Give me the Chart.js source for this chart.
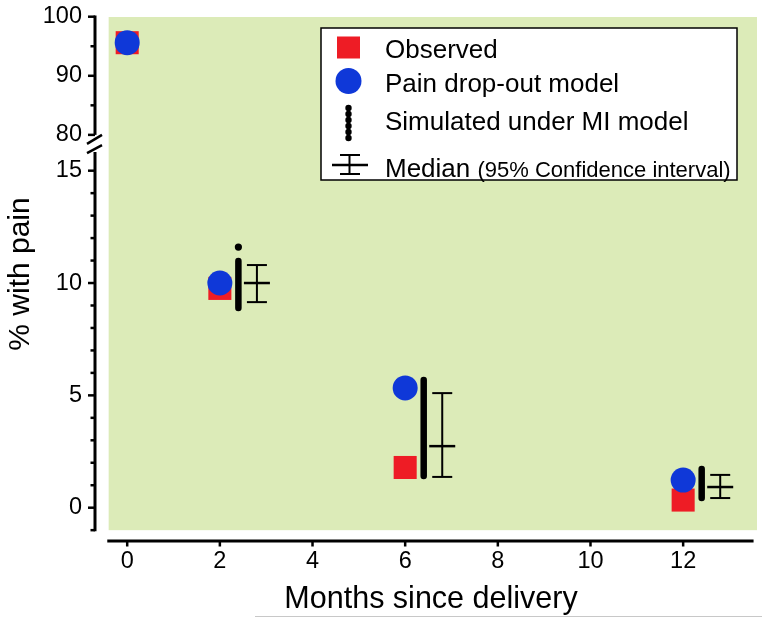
<!DOCTYPE html>
<html><head><meta charset="utf-8">
<script src="https://cdn.jsdelivr.net/npm/chart.js@4"></script>
<style>html,body{margin:0;padding:0;background:#fff}#wrap{width:762px;height:617px;position:relative}</style>
</head><body><div id="wrap"><canvas id="c"></canvas></div>
<script>
// ---- data ----
const months = [0, 2, 6, 12];
const observed = [95.6, 9.76, 1.79, 0.34];
const painModel = [95.6, 10.0, 5.33, 1.23];
const simMonths = [2.4, 6.4, 12.4];
const simLow = [8.89, 1.41, 0.43];
const simHigh = [10.98, 5.68, 1.72];
const simExtraMonths = [2.4];
const simExtra = [11.6];
const medMonths = [2.8, 6.8, 12.8];
const median = [10.0, 2.74, 0.92];
const ciLow = [9.15, 1.37, 0.43];
const ciHigh = [10.8, 5.1, 1.46];
const xTicks = [0, 2, 4, 6, 8, 10, 12];
const yTopTicks = [80, 90, 100];
const yTopMinor = [85, 95];
const yBottomTicks = [0, 5, 10, 15];
const yBottomMinor = [-1, 1, 2, 3, 4, 6, 7, 8, 9, 11, 12, 13, 14];
const seriesLabels = ['Observed', 'Pain drop-out model', 'Simulated under MI model', 'Median'];
const ciLabel = '(95% Confidence interval)';
const xTitle = 'Months since delivery';
const yTitle = '% with pain';
const BREAK_VALUE = 50;

const FONT = "'Liberation Sans', Arial, Helvetica, sans-serif";
const RED = '#ee1c25';
const BLUE = '#0f38d8';
const GREEN = '#dcebb8';

function splitPts(xs, ys) {
  const top = [], bot = [];
  xs.forEach((x, i) => (ys[i] > BREAK_VALUE ? top : bot).push({x: x, y: ys[i]}));
  return {top, bot};
}
function rangePts(xs, lo, hi) {
  const out = [];
  xs.forEach((x, i) => { out.push({x: x, y: lo[i]}, {x: x, y: hi[i]}, {x: x, y: null}); });
  return out;
}
const obs = splitPts(months, observed);
const mod = splitPts(months, painModel);

const datasets = [
  {label: seriesLabels[1], data: mod.top, yAxisID: 'yTop', pointStyle: 'circle', pointRadius: 12.5, pointBackgroundColor: BLUE, pointBorderWidth: 0, order: 0, clip: false},
  {label: seriesLabels[1], data: mod.bot, yAxisID: 'yBot', pointStyle: 'circle', pointRadius: 12.5, pointBackgroundColor: BLUE, pointBorderWidth: 0, order: 0, clip: false},
  {label: seriesLabels[0], data: obs.top, yAxisID: 'yTop', pointStyle: 'rect', pointRadius: 16.3, pointBackgroundColor: RED, pointBorderWidth: 0, order: 1, clip: false},
  {label: seriesLabels[0], data: obs.bot, yAxisID: 'yBot', pointStyle: 'rect', pointRadius: 16.3, pointBackgroundColor: RED, pointBorderWidth: 0, order: 1, clip: false},
  {label: seriesLabels[2], data: rangePts(simMonths, simLow, simHigh), yAxisID: 'yBot', showLine: true, spanGaps: false, borderColor: '#000', borderWidth: 6.5, borderCapStyle: 'round', pointRadius: 0, order: 2, clip: false},
  {label: seriesLabels[2], data: simExtraMonths.map((x, i) => ({x: x, y: simExtra[i]})), yAxisID: 'yBot', pointStyle: 'circle', pointRadius: 3.6, pointBackgroundColor: '#000', pointBorderWidth: 0, order: 2, clip: false},
  {label: seriesLabels[3], data: rangePts(medMonths, ciLow, ciHigh), yAxisID: 'yBot', showLine: true, spanGaps: false, borderColor: '#000', borderWidth: 2, pointStyle: 'line', pointRadius: 10, pointBorderWidth: 2, pointBorderColor: '#000', order: 3, clip: false},
  {label: seriesLabels[3], data: medMonths.map((x, i) => ({x: x, y: median[i]})), yAxisID: 'yBot', pointStyle: 'line', pointRadius: 13, pointBorderWidth: 2.5, pointBorderColor: '#000', order: 3, clip: false}
];

const tickFont = {family: FONT, size: 23.5};
const noPad = s => { s.paddingTop = 0; s.paddingBottom = 0; s.paddingLeft = 0; s.paddingRight = 0; };

const decor = {
  id: 'decor',
  beforeDraw(chart) {
    const {ctx, chartArea} = chart;
    const xs = chart.scales.x, yt = chart.scales.yTop, yb = chart.scales.yBot;
    const l = xs.getPixelForValue(-0.4), t = yt.getPixelForValue(100) + 0.3;
    const r = chartArea.right, b = yb.getPixelForValue(-1);
    ctx.save();
    ctx.fillStyle = GREEN;
    ctx.fillRect(l, t, r - l, b - t);
    ctx.restore();
  },
  afterDraw(chart) {
    const {ctx, chartArea} = chart;
    const xs = chart.scales.x, yt = chart.scales.yTop, yb = chart.scales.yBot;
    const ax = chartArea.left;
    const ln = (x1, y1, x2, y2) => { ctx.beginPath(); ctx.moveTo(x1, y1); ctx.lineTo(x2, y2); ctx.stroke(); };
    ctx.save();
    ctx.strokeStyle = '#000';
    ctx.lineCap = 'butt';
    // y axis (broken)
    const yU = yt.getPixelForValue(80), yL = yb.getPixelForValue(15.83);
    ctx.lineWidth = 3;
    ln(ax, yt.getPixelForValue(100) - 1.2, ax, yU);
    ln(ax, yL, ax, yb.getPixelForValue(-1) + 1.2);
    ctx.lineWidth = 2.5;
    yTopTicks.forEach(v => { const p = yt.getPixelForValue(v); ln(ax - 7, p, ax, p); });
    yTopMinor.forEach(v => { const p = yt.getPixelForValue(v); ln(ax - 4.5, p, ax, p); });
    yBottomTicks.forEach(v => { const p = yb.getPixelForValue(v); ln(ax - 7, p, ax, p); });
    yBottomMinor.forEach(v => { const p = yb.getPixelForValue(v); ln(ax - 4.5, p, ax, p); });
    // break marks
    ctx.lineWidth = 2.5;
    ln(ax - 8, yU + 9, ax + 7, yU);
    ln(ax - 8, yL + 1, ax + 7, yL - 7);
    // x axis
    const xb = chartArea.bottom;
    ctx.lineWidth = 3;
    ln(xs.getPixelForValue(-0.43), xb, xs.getPixelForValue(13.52), xb);
    ctx.lineWidth = 2.5;
    xTicks.forEach(v => { const p = xs.getPixelForValue(v); ln(p, xb, p, xb + 5.5); });
    // axis titles
    ctx.fillStyle = '#000';
    ctx.font = '30.5px ' + FONT;
    ctx.textAlign = 'center';
    ctx.textBaseline = 'alphabetic';
    ctx.fillText(xTitle, 431, 607.5);
    ctx.save();
    ctx.translate(28.5, 274);
    ctx.rotate(-Math.PI / 2);
    ctx.font = '30px ' + FONT;
    ctx.fillText(yTitle, 0, 0);
    ctx.restore();
    // faint line at bottom
    ctx.strokeStyle = '#c8c8c8';
    ctx.lineWidth = 1;
    ln(255, 616.5, 762, 616.5);
    // legend
    const LX = 321, LY = 28, LW = 416, LH = 152;
    ctx.fillStyle = '#fff';
    ctx.fillRect(LX, LY, LW, LH);
    ctx.strokeStyle = '#000';
    ctx.lineWidth = 1.5;
    ctx.strokeRect(LX, LY, LW, LH);
    const sx = 348.5;
    ctx.fillStyle = RED;
    ctx.fillRect(sx - 11.5, 36.5, 23, 22);
    ctx.fillStyle = BLUE;
    ctx.beginPath(); ctx.arc(sx, 81, 13, 0, Math.PI * 2); ctx.fill();
    ctx.fillStyle = '#000';
    for (let i = 0; i < 6; i++) { ctx.beginPath(); ctx.arc(sx, 108 + i * 6, 3.2, 0, Math.PI * 2); ctx.fill(); }
    ctx.lineWidth = 2.5;
    ln(332, 165, 368, 165);
    ctx.lineWidth = 2;
    ln(sx + 1, 155, sx + 1, 174);
    ln(340, 155, 360, 155);
    ln(340, 174, 360, 174);
    ctx.fillStyle = '#000';
    ctx.textAlign = 'left';
    ctx.textBaseline = 'alphabetic';
    ctx.font = '26px ' + FONT;
    ctx.fillText(seriesLabels[0], 385, 58);
    ctx.fillText(seriesLabels[1], 385, 91.5);
    ctx.fillText(seriesLabels[2], 385, 130);
    ctx.fillText(seriesLabels[3], 385, 176.5);
    const mw = ctx.measureText(seriesLabels[3] + ' ').width;
    ctx.font = '22px ' + FONT;
    ctx.fillText(ciLabel, 385 + mw, 176.5);
    ctx.restore();
  }
};

new Chart(document.getElementById('c'), {
  type: 'scatter',
  data: {datasets},
  options: {
    responsive: true,
    maintainAspectRatio: false,
    animation: false,
    layout: {autoPadding: false, padding: {top: 16.7, right: 5, left: 0, bottom: 0}},
    plugins: {legend: {display: false}, tooltip: {enabled: false}},
    scales: {
      x: {
        type: 'linear', min: -0.695, max: 13.594,
        grid: {display: false, drawTicks: false}, border: {display: false},
        afterBuildTicks: s => { s.ticks = xTicks.map(v => ({value: v})); },
        afterFit: s => { s.height = 76; noPad(s); },
        ticks: {font: tickFont, color: '#000', padding: 6.4, autoSkip: false, maxRotation: 0}
      },
      yTop: {
        type: 'linear', position: 'left', stack: 'y', stackWeight: 126.8, weight: 1,
        min: 78.54, max: 100,
        grid: {display: false, drawTicks: false}, border: {display: false},
        afterBuildTicks: s => { s.ticks = yTopTicks.map(v => ({value: v})); },
        afterFit: s => { s.width = 95; noPad(s); },
        ticks: {font: tickFont, color: '#000', padding: 13}
      },
      yBot: {
        type: 'linear', position: 'left', stack: 'y', stackWeight: 397.5, weight: 0,
        min: -1.482, max: 16.21,
        grid: {display: false, drawTicks: false}, border: {display: false},
        afterBuildTicks: s => { s.ticks = yBottomTicks.map(v => ({value: v})); },
        afterFit: s => { s.width = 95; noPad(s); },
        ticks: {font: tickFont, color: '#000', padding: 13}
      }
    }
  },
  plugins: [decor]
});
</script>
</body></html>
